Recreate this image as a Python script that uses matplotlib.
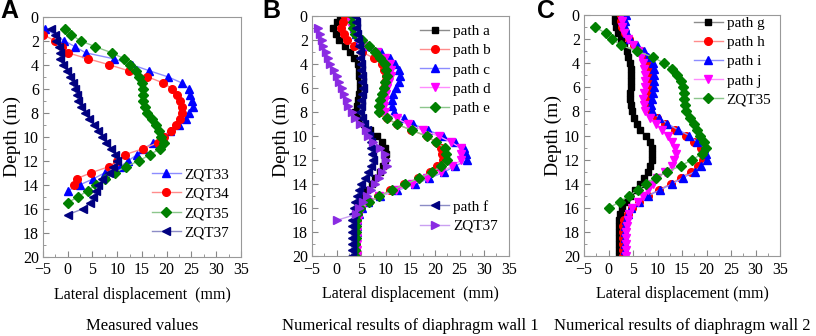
import matplotlib
matplotlib.use("Agg")
import matplotlib.pyplot as plt
import numpy as np
from matplotlib.ticker import MultipleLocator
from matplotlib.colors import to_rgb

plt.rcParams['font.family'] = ['Liberation Serif', 'DejaVu Serif']

# ---- panel A: measured values ----
d_zqt33 = [1, 2, 2.5, 3, 3.5, 4, 4.5, 5, 5.5, 6, 6.5, 7, 7.5, 8, 8.5, 9, 9.5, 10,
           10.5, 11, 11.5, 12, 12.5, 13, 13.5, 14, 14.5]
v_zqt33 = [-4.5, -0.7, 1.5, 3.6, 9.3, 13.0, 16.5, 20.2, 23.0, 24.5, 24.7, 25.1, 25.3,
           24.6, 23.8, 22.4, 20.6, 19.2, 17.3, 15.3, 14.0, 12.2, 10.6, 7.5, 5.2, 2.5, 0.0]
d_zqt34 = [1.5, 2, 2.5, 3, 3.5, 4, 4.5, 5, 5.5, 6, 6.5, 7, 7.5, 8, 8.5, 9, 9.5, 10,
           10.5, 11, 11.5, 12, 12.5, 13, 13.5, 14]
v_zqt34 = [-4.9, -2.6, -1.2, 0.0, 4.1, 8.4, 12.3, 16.1, 19.2, 21.1, 22.0, 22.7, 23.1,
           23.0, 22.6, 21.9, 20.8, 19.5, 18.2, 15.2, 11.5, 10.0, 8.3, 4.7, 1.8, 1.2]
d_zqt35 = [1, 1.5, 2, 2.5, 3, 3.5, 4, 4.5, 5, 5.5, 6, 6.5, 7, 7.5, 8, 8.5, 9, 9.5, 10,
           10.5, 11, 11.5, 12, 12.5, 13, 13.5, 14, 14.5, 15, 15.5]
v_zqt35 = [-0.6, 0.7, 2.6, 5.6, 8.9, 11.4, 12.6, 13.8, 14.4, 15.0, 15.2, 15.3, 15.3,
           15.6, 16.0, 17.1, 17.9, 18.4, 18.9, 19.5, 18.6, 16.6, 14.4, 11.7, 9.5, 7.5,
           5.7, 4.0, 2.1, 0.0]
d_zqt37 = [1, 1.5, 2, 2.5, 3, 3.5, 4, 4.5, 5, 5.5, 6, 6.5, 7, 7.5, 8, 8.5, 9, 9.5, 10,
           10.5, 11, 11.5, 12, 12.5, 13, 13.5, 14, 14.5, 15, 15.5, 16, 16.5]
v_zqt37 = [-3.3, -2.65, -2.4, -1.8, -1.5, -1.5, -1.0, -0.1, 0.5, 1.0, 1.4, 1.8, 2.1,
           2.65, 3.5, 4.3, 5.3, 6.2, 7.0, 7.7, 8.7, 9.6, 10.0, 9.2, 8.3, 7.0, 6.2, 5.7,
           5.1, 4.4, 3.1, 0.0]

# ---- panel B: diaphragm wall 1 ----
depth = list(np.arange(0, 20.5, 0.5))
path_a = [0.7, 0.1, -0.8, -0.2, 0.4, 1.8, 2.8, 3.6, 4.3, 4.5, 4.6, 4.7, 4.7, 4.6, 4.4,
          4.2, 3.7, 4.5, 5.6, 6.8, 8.2, 9.2, 9.8, 10.1, 9.9, 9.5, 8.9, 7.9, 7.2, 6.2,
          5.5, 4.8, 4.3, 4.0, 3.9, 3.8, 3.8, 3.8, 3.8, 3.8, 3.8]
path_b = [1.8, 1.3, 0.9, 1.4, 2.2, 3.6, 5.2, 7.6, 9.2, 9.7, 10.0, 9.9, 9.7, 9.4, 9.0,
          8.8, 8.8, 10.2, 12.3, 15.2, 18.3, 20.2, 21.3, 21.5, 21.6, 20.5, 19.0, 16.5,
          13.7, 10.9, 8.5, 6.5, 5.0, 4.3, 4.1, 4.0, 4.0, 4.0, 3.9, 3.9, 3.9]
path_c = [3.8, 3.7, 3.6, 3.9, 4.8, 6.4, 9.0, 10.8, 11.9, 12.7, 12.9, 12.6, 12.1, 11.5,
          11.2, 11.2, 11.6, 13.7, 15.6, 18.6, 21.7, 24.0, 26.0, 26.3, 26.5, 24.0, 21.8,
          18.8, 16.0, 12.3, 8.8, 6.4, 5.2, 4.5, 4.2, 4.1, 4.1, 4.0, 4.0, 4.0, 4.0]
path_d = [3.0, 3.0, 3.1, 3.5, 4.4, 6.0, 8.2, 9.8, 10.8, 11.1, 11.0, 10.7, 10.3, 10.0,
          9.8, 9.6, 9.8, 12.2, 14.5, 17.6, 20.8, 23.3, 25.4, 25.4, 25.3, 23.4, 21.3,
          18.3, 15.3, 12.0, 8.7, 6.4, 5.1, 4.4, 4.3, 4.2, 4.2, 4.2, 4.1, 4.1, 4.1]
path_e = [3.4, 3.4, 3.3, 3.8, 5.2, 6.5, 7.9, 8.9, 9.8, 10.1, 10.3, 9.9, 9.6, 9.2, 8.8,
          8.6, 8.6, 10.3, 12.3, 15.3, 18.4, 20.3, 22.0, 22.3, 22.5, 21.2, 19.4, 16.7,
          13.9, 11.2, 8.6, 6.5, 4.8, 4.2, 4.0, 3.9, 3.9, 3.9, 3.8, 3.8, 3.8]
path_f = [3.8, 3.9, 4.0, 4.2, 4.4, 4.5, 4.7, 4.8, 5.0, 5.0, 5.1, 5.2, 5.3, 5.2, 5.0,
          4.9, 4.8, 5.1, 5.6, 6.2, 6.6, 6.9, 7.0, 7.2, 7.4, 6.9, 6.4, 5.7, 4.9, 4.5,
          4.2, 3.8, 3.5, 3.3, 3.2, 3.1, 3.1, 3.1, 3.1, 3.1, 3.1]
d_zqt37b = [1, 1.5, 2, 2.5, 3, 3.5, 4, 4.5, 5, 5.5, 6, 6.5, 7, 7.5, 8, 8.5, 9, 9.5, 10,
            10.5, 11, 11.5, 12, 12.5, 13, 13.5, 14, 14.5, 15, 15.5, 16, 16.5, 17]
v_zqt37b = [-3.7, -3.3, -3.0, -2.7, -2.2, -1.8, -1.3, -0.6, 0.1, 0.4, 1.1, 1.4, 2.1,
            2.4, 3.1, 3.8, 4.8, 5.9, 6.4, 7.4, 8.8, 9.8, 10.0, 10.2, 9.3, 8.6, 7.8, 6.9,
            6.1, 5.3, 4.6, 4.0, 0.0]

# ---- panel C: diaphragm wall 2 ----
path_g = [1.4, 1.4, 1.6, 1.9, 2.5, 3.1, 3.7, 4.0, 4.3, 4.5, 4.5, 4.5, 4.5, 4.4, 4.4,
          4.5, 4.8, 5.3, 5.9, 6.5, 7.6, 8.5, 8.8, 8.9, 8.9, 8.5, 8.0, 7.2, 6.4, 5.5,
          4.3, 3.5, 2.8, 2.4, 2.1, 2.1, 2.1, 2.1, 2.1, 2.1, 2.1]
path_h = [2.6, 2.6, 2.8, 3.4, 4.1, 5.2, 6.6, 7.5, 8.3, 8.5, 8.6, 8.6, 8.5, 8.3, 8.2,
          8.2, 8.5, 9.9, 11.5, 13.5, 15.9, 17.5, 18.8, 19.2, 19.2, 18.3, 16.8, 14.8,
          12.7, 10.3, 8.0, 6.3, 4.7, 3.9, 3.2, 3.0, 3.0, 3.0, 3.0, 3.0, 3.0]
path_i = [3.6, 3.4, 3.4, 3.8, 4.4, 5.8, 7.3, 8.1, 9.0, 9.2, 9.3, 9.3, 9.2, 9.0, 8.8,
          8.6, 8.8, 10.3, 12.0, 14.1, 16.5, 18.0, 19.4, 19.8, 20.1, 18.9, 17.6, 15.2,
          13.0, 10.6, 8.0, 6.2, 4.6, 3.9, 3.5, 3.4, 3.4, 3.3, 3.3, 3.3, 3.3]
path_j = [2.6, 2.7, 2.8, 3.2, 3.9, 4.9, 6.0, 6.6, 7.1, 7.3, 7.5, 7.5, 7.4, 7.2, 7.1,
          7.2, 7.5, 8.5, 9.6, 10.9, 12.1, 13.0, 13.5, 13.7, 13.4, 13.0, 11.6, 9.9,
          9.0, 8.0, 7.0, 6.0, 4.8, 4.2, 3.9, 3.7, 3.6, 3.6, 3.5, 3.5, 3.5]
d_zqt35c = [1, 1.5, 2, 2.5, 3, 3.5, 4, 4.5, 5, 5.5, 6, 6.5, 7, 7.5, 8, 8.5, 9, 9.5,
            10, 10.5, 11, 11.5, 12, 12.5, 13, 13.5, 14, 14.5, 15, 15.5, 16]
v_zqt35c = [-2.7, -0.6, 0.8, 2.5, 5.9, 9.1, 11.4, 12.9, 14.0, 14.7, 15.2, 15.4, 15.5,
            15.7, 15.9, 16.7, 17.4, 18.1, 18.6, 19.5, 19.8, 19.1, 17.1, 14.8, 12.0,
            9.7, 7.6, 6.0, 4.2, 2.3, 0.1]

BLACK, RED, BLUE, MAG = '#000000', '#ff0000', '#0000ff', '#ff00ff'
GREEN, NAVY, PURPLE = '#008000', '#000080', '#8a2be2'


def light(c, f=0.55):
    r, g, b = to_rgb(c)
    return (r + (1 - r) * f, g + (1 - g) * f, b + (1 - b) * f)


def series(ax, x, y, c, m, label, ms=5.5):
    ax.plot(x, y, color=light(c), lw=1.0, marker=m, ms=ms,
            mfc=c, mec=c, label=label)


def style(ax, xlabel):
    ax.set_xlim(-5, 35)
    ax.set_ylim(20, 0)
    ax.xaxis.set_major_locator(MultipleLocator(5))
    ax.xaxis.set_minor_locator(MultipleLocator(2.5))
    ax.yaxis.set_major_locator(MultipleLocator(2))
    ax.yaxis.set_minor_locator(MultipleLocator(1))
    ax.tick_params(which='both', direction='in', color='#888888',
                   labelsize=11.5, top=False, right=False)
    ax.tick_params(which='major', length=4)
    ax.tick_params(axis='x', which='major', pad=4)
    ax.tick_params(axis='y', which='major', pad=3)
    ax.tick_params(which='minor', length=2.5)
    for s in ax.spines.values():
        s.set_color('#999999')
        s.set_linewidth(0.8)
    ax.set_xlabel(xlabel, fontsize=11.5, labelpad=6)
    ax.set_ylabel('Depth (m)', fontsize=14, labelpad=1)


fig = plt.figure(figsize=(8.16, 3.36), dpi=100)
axA = fig.add_axes([0.0527, 0.236, 0.2426, 0.714])
axB = fig.add_axes([0.3824, 0.237, 0.2410, 0.715])
axC = fig.add_axes([0.7157, 0.238, 0.2402, 0.717])

leg_kw = dict(frameon=False, fontsize=11, handlelength=1.9, handletextpad=0.25,
              labelspacing=0.36, borderpad=0, borderaxespad=0)

# A
series(axA, v_zqt33, d_zqt33, BLUE, '^', 'ZQT33')
series(axA, v_zqt34, d_zqt34, RED, 'o', 'ZQT34')
series(axA, v_zqt35, d_zqt35, GREEN, 'D', 'ZQT35', ms=5)
series(axA, v_zqt37, d_zqt37, NAVY, '<', 'ZQT37')
style(axA, 'Lateral displacement  (mm)')
axA.legend(loc='upper left', bbox_to_anchor=(0.55, 0.37), **leg_kw)

# B
series(axB, path_a, depth, BLACK, 's', 'path a', ms=5)
series(axB, path_b, depth, RED, 'o', 'path b')
series(axB, path_c, depth, BLUE, '^', 'path c')
series(axB, path_d, depth, MAG, 'v', 'path d')
series(axB, path_e, depth, GREEN, 'D', 'path e', ms=5)
series(axB, path_f, depth, NAVY, '<', 'path f')
series(axB, v_zqt37b, d_zqt37b, PURPLE, '>', 'ZQT37')
style(axB, 'Lateral displacement  (mm)')
h, l = axB.get_legend_handles_labels()
legB1 = axB.legend(h[:5], l[:5], loc='upper left', bbox_to_anchor=(0.55, 0.965), **leg_kw)
axB.add_artist(legB1)
axB.legend(h[5:], l[5:], loc='upper left', bbox_to_anchor=(0.55, 0.235), **leg_kw)

# C
series(axC, path_g, depth, BLACK, 's', 'path g', ms=5)
series(axC, path_h, depth, RED, 'o', 'path h')
series(axC, path_i, depth, BLUE, '^', 'path i')
series(axC, path_j, depth, MAG, 'v', 'path j')
series(axC, v_zqt35c, d_zqt35c, GREEN, 'D', 'ZQT35', ms=5)
style(axC, 'Lateral displacement (mm)')
axC.legend(loc='upper left', bbox_to_anchor=(0.56, 0.995), **leg_kw)

# panel letters and captions
for ax, letter, cap, lx in [(axA, 'A', 'Measured values', 0.0),
                            (axB, 'B', 'Numerical results of diaphragm wall 1', 0.322),
                            (axC, 'C', 'Numerical results of diaphragm wall 2', 0.658)]:
    fig.text(lx, 1.004, letter, fontsize=18, fontweight='bold',
             family='Liberation Sans', ha='left', va='top')
    pos = ax.get_position()
    fig.text((pos.x0 + pos.x1) / 2, 0.03, cap, fontsize=12, ha='center', va='center')

fig.savefig('out.png', dpi=100)
